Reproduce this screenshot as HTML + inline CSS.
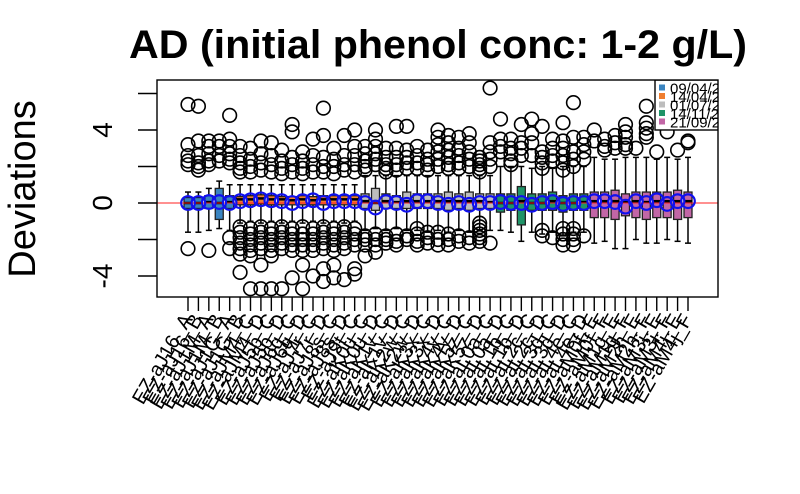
<!DOCTYPE html>
<html><head><meta charset="utf-8"><style>
html,body{margin:0;padding:0;background:#fff;}
svg{display:block;font-family:"Liberation Sans",Arial,sans-serif;}
</style></head><body>
<svg id="chart" width="800" height="494" viewBox="0 0 800 494">
<text x="438" y="58" text-anchor="middle" font-size="40" font-weight="bold" textLength="618" lengthAdjust="spacingAndGlyphs">AD (initial phenol conc: 1-2 g/L)</text>
<text transform="translate(35,189) rotate(-90)" text-anchor="middle" font-size="38">Deviations</text>
<g id="marks"></g>
</svg>
<script>
const groups = ["09/04/2","14/04/2","01/07/2","14/11/2","21/09/2"];
const groupColors = ["#3a84c0","#ef7d2f","#bdbdbd","#1f9468","#c266a6"];
const boxGroup = [0,0,0,0,0, 1,1,1,1,1,1,1,1,1,1,1,1, 2,2,2,2,2,2,2,2,2,2,2,2,2, 3,3,3,3,3,3,3,3,3, 4,4,4,4,4,4,4,4,4,4];
const medians = [0,0,0.05,0,0.05, 0.2,0.2,0.25,0.2,0.2,0.15,0.2,0.15,0.2,0.2,0.2,0.2, 0.1,0,0.1,0.05,0.1,0.1,0.1,0.1,0.1,0.1,0.1,0.1,0.05, 0,0,0.1,0,0,0.1,0,0,0.05, 0.1,0.1,0.1,0.05,0.1,0.05,0.1,0.1,0.1,0.1];
const q1s = [-0.3,-0.3,-0.3,-0.9,-0.3, -0.1,-0.1,-0.05,-0.1,-0.1,-0.1,-0.1,-0.1,-0.1,-0.1,-0.1,-0.1, -0.3,-0.4,-0.3,-0.3,-0.3,-0.3,-0.3,-0.3,-0.4,-0.3,-0.4,-0.3,-0.3, -0.5,-0.4,-1.2,-0.4,-0.4,-0.4,-0.5,-0.4,-0.4, -0.8,-0.8,-0.9,-0.7,-0.8,-0.9,-0.8,-0.8,-0.9,-0.8];
const q3s = [0.3,0.3,0.4,0.8,0.4, 0.35,0.4,0.45,0.4,0.35,0.35,0.4,0.35,0.4,0.4,0.4,0.4, 0.5,0.8,0.5,0.4,0.6,0.5,0.5,0.5,0.6,0.5,0.6,0.5,0.5, 0.5,0.5,0.9,0.5,0.5,0.6,0.4,0.5,0.5, 0.6,0.6,0.7,0.5,0.6,0.6,0.6,0.6,0.7,0.6];
const lows = [-1.6,-1.6,-1.5,-1.4,-1.5, -1.1,-1.0,-1.1,-1.0,-1.1,-1.0,-1.1,-1.0,-1.1,-1.0,-1.1,-1.0, -1.5,-1.4,-1.5,-1.4,-1.5,-1.5,-1.6,-1.5,-1.6,-1.5,-1.6,-1.5,-1.5, -1.5,-1.6,-2.1,-1.6,-1.7,-1.6,-1.8,-1.6,-1.6, -2.2,-2.1,-2.5,-2.5,-2.0,-2.2,-2.2,-2.0,-2.1,-2.2];
const highs = [0.6,0.6,0.8,1.2,1.0, 1.0,1.0,1.0,1.0,1.0,1.0,1.0,1.0,1.0,1.0,1.0,1.0, 1.5,1.5,1.5,1.5,1.5,1.5,1.5,1.5,1.5,1.5,1.5,1.5,1.5, 2.0,2.0,2.0,1.9,2.0,1.9,2.0,2.0,2.0, 2.5,2.4,2.4,2.5,2.5,2.5,2.4,2.5,2.4,2.5];
const means = [0,0,0.05,0.05,0, 0.1,0.15,0.2,0.15,0.1,0,0.1,0.15,0,0.1,0.1,0.1, 0,-0.25,0.05,0,-0.1,0.1,0.1,0,-0.1,0,-0.1,0,0, 0.05,0,0,-0.1,0,0.05,-0.05,0,0, 0.1,0.1,0.05,-0.2,0.1,0,0.15,-0.05,0.1,0.1];
const outliers = [
 [5.4,3.2,2.6,2.3,2.1,-2.5],
 [5.3,3.4,2.6,2.2,2.0,1.8],
 [3.4,3.1,2.7,2.3,2.1,-2.6],
 [3.4,3.1,2.6,2.3],
 [4.8,3.5,3.1,2.7,2.4,2.2,-1.9,-2.5],
 [3.1,2.6,2.2,1.9,1.7,-1.3,-1.6,-1.9,-2.2,-2.5,-2.8,-3.8],
 [3.0,2.4,2.0,1.7,-1.4,-1.7,-2.0,-2.3,-2.6,-2.9,-4.7],
 [3.4,2.7,2.2,1.8,-1.3,-1.6,-1.9,-2.2,-2.5,-3.4,-4.7],
 [3.3,2.6,2.1,1.7,-1.4,-1.7,-2.0,-2.3,-2.6,-2.9,-4.7],
 [2.9,2.3,1.9,1.6,-1.3,-1.6,-1.9,-2.2,-2.5,-4.7],
 [4.3,3.9,2.5,2.1,1.7,-1.4,-1.7,-2.0,-2.3,-2.6,-4.1],
 [2.8,2.3,1.9,1.6,-1.3,-1.7,-2.0,-2.3,-2.6,-3.4,-4.7],
 [3.5,2.6,2.1,1.7,-1.4,-1.7,-2.0,-2.3,-2.6,-4.0],
 [5.2,3.7,2.5,2.0,1.7,-1.3,-1.6,-1.9,-2.2,-2.5,-3.6,-4.3],
 [3.0,2.4,2.0,1.6,-1.4,-1.7,-2.0,-2.3,-2.6,-3.4,-4.1],
 [3.7,2.6,2.1,1.8,-1.3,-1.6,-1.9,-2.2,-2.5,-4.2],
 [4.0,3.1,2.6,2.1,1.7,-1.4,-1.7,-2.0,-2.3,-3.6,-3.9],
 [3.1,2.7,2.3,2.0,1.8,-1.8,-2.0,-2.3,-2.9],
 [4.0,3.5,3.1,2.7,2.4,2.1,-1.7,-2.0,-2.3,-2.7],
 [3.0,2.5,2.1,1.9,1.7,-1.8,-2.0,-2.2],
 [4.2,3.0,2.5,2.1,1.8,-1.7,-2.1,-2.3],
 [4.2,2.9,2.5,2.2,1.9,-1.8,-2.0],
 [3.1,2.6,2.2,1.9,-1.4,-1.7,-2.1,-2.3],
 [2.9,2.4,2.1,1.8,-1.6,-1.9,-2.2],
 [4.0,3.6,3.2,2.8,2.4,2.0,-1.6,-2.0,-2.3],
 [3.7,3.3,2.9,2.5,2.1,1.9,-1.7,-2.0,-2.3],
 [3.6,3.0,2.6,2.2,1.9,-1.8,-2.1],
 [3.8,3.3,2.8,2.4,2.0,-1.9,-2.2],
 [2.5,2.3,2.1,1.9,1.7,-1.1,-1.3,-1.5,-1.7,-1.9,-2.1],
 [6.3,3.3,2.8,2.4,2.0,-2.2],
 [4.6,3.5,3.1,2.8],
 [3.5,3.0,2.7,2.3,2.1],
 [4.3,3.3,3.0,2.6],
 [4.6,3.8,3.3,2.6],
 [4.2,2.8,2.5,2.2,1.9,-1.5,-1.8],
 [3.5,3.0,2.6,2.3,-1.9],
 [4.4,3.4,3.0,2.6,2.2,1.8,-1.4,-1.7,-2.0,-2.3],
 [5.5,3.6,2.8,2.4,2.0,-1.4,-1.7,-2.0,-2.3],
 [3.6,3.2,2.8,2.4,-1.8],
 [4.0,3.4],
 [3.5,3.1,2.9],
 [3.7,3.3,3.0],
 [4.3,3.9,3.6,3.2,3.0],
 [3.0],
 [5.3,4.4,4.1,3.8,3.6],
 [2.8],
 [3.9],
 [2.9],
 [3.4,3.3]
];
const boxNames = ["EZ-aJ16_A","EZ-aJ16_B","EZ-aJ1M_A","EZ-aJ1M_B","EZ-aJ1G_A","EZ-aJ1G_B","EZ-aJM4_C","EZ-aJM4_D","EZ-aJ5p_C","EZ-aJ5p_D","EZ-aJ6q_C","EZ-aJ6q_D","EZ-aJ7r_C","EZ-aJ7r_D","EZ-aJ8s_C","EZ-aJ8s_D","EZ-aJ9t_C","EZ-aK0u_C","EZ-aK0u_D","EZ-aK1v_C","EZ-aK1v_D","EZ-aK2w_C","EZ-aK2w_D","EZ-aK3x_C","EZ-aK3x_D","EZ-aK4y_C","EZ-aK4y_D","EZ-aK5z_C","EZ-aK5z_D","EZ-aL0a_C","EZ-aL0a_D","EZ-aL1b_C","EZ-aL1b_D","EZ-aL2c_C","EZ-aL2c_D","EZ-aL3d_C","EZ-aL3d_D","EZ-aL4e_C","EZ-aL4e_D","EZ-aM0f_E","EZ-aM0f_F","EZ-aM1g_E","EZ-aM1g_F","EZ-aM2h_E","EZ-aM2h_F","EZ-aM3i_E","EZ-aM3i_F","EZ-aM4j_E","EZ-aM4j_F"];
const yTicks = [-4,-2,0,2,4,6];
const yTickLabels = ["-4","","0","","4",""];

const NS="http://www.w3.org/2000/svg";
const L=157,R=718,T=80,B=297;
function ys(v){return 203 - v*18.25;}
function xs(i){return 188 + i*(500/48);}
const g=document.getElementById('marks');
function mk(tag,attrs,parent){const e=document.createElementNS(NS,tag);for(const k in attrs)e.setAttribute(k,attrs[k]);(parent||g).appendChild(e);return e;}

const defs=mk('defs',{});
const cp=mk('clipPath',{id:'plotclip'},defs);
mk('rect',{x:L,y:T,width:R-L,height:B-T},cp);

// y axis
const yax=mk('g',{});


yTicks.forEach((t,k)=>{
  const ln=mk('line',{x1:L,x2:L-19,y1:ys(t),y2:ys(t),stroke:'#000','stroke-width':1.4},yax);
  
  
  if(yTickLabels[k]){
    const tx=mk('text',{transform:`translate(112,${ys(t)}) rotate(-90)`,'text-anchor':'middle','font-size':28},yax);
    
    
    tx.textContent=yTickLabels[k];
  }
});

const plot=mk('g',{'clip-path':'url(#plotclip)'});


const hw=4;
medians.forEach((m,i)=>{
  const x=xs(i);
  const bg=mk('g',{},plot);
  
  
  mk('line',{x1:x,x2:x,y1:ys(highs[i]),y2:ys(q3s[i]),stroke:'#000','stroke-width':1.5},bg);
  mk('line',{x1:x,x2:x,y1:ys(q1s[i]),y2:ys(lows[i]),stroke:'#000','stroke-width':1.5},bg);
  mk('line',{x1:x-3,x2:x+3,y1:ys(highs[i]),y2:ys(highs[i]),stroke:'#000','stroke-width':1.5},bg);
  mk('line',{x1:x-3,x2:x+3,y1:ys(lows[i]),y2:ys(lows[i]),stroke:'#000','stroke-width':1.5},bg);
  mk('rect',{x:x-hw,y:ys(q3s[i]),width:2*hw,height:ys(q1s[i])-ys(q3s[i]),fill:groupColors[boxGroup[i]],stroke:'#222','stroke-width':1.3},bg);
  mk('line',{x1:x-hw,x2:x+hw,y1:ys(m),y2:ys(m),stroke:'#000','stroke-width':2.5},bg);
});
const zl=mk('line',{x1:L,x2:R,y1:ys(0),y2:ys(0),stroke:'#ff2020','stroke-width':1},plot);


outliers.forEach((arr,i)=>{
  arr.forEach(v=>{
    const c=mk('circle',{cx:xs(i),cy:ys(v),r:6.8,fill:'none',stroke:'#000','stroke-width':1.6},plot);
    
    
  });
});
means.forEach((v,i)=>{
  const c=mk('circle',{cx:xs(i),cy:ys(v),r:6.8,fill:'none',stroke:'#1010ee','stroke-width':2.2},plot);
  
  
});

// legend
const lg=mk('g',{'clip-path':'url(#plotclip)'});


mk('rect',{x:655,y:80,width:70,height:50,fill:'#fff',stroke:'#000','stroke-width':1.4},lg);
groups.forEach((name,k)=>{
  const yy=88+k*8.5;
  const e=mk('g',{},lg);
  
  
  mk('rect',{x:659,y:yy-3.5,width:6,height:6,fill:groupColors[k]},e);
  const t=mk('text',{x:670,y:yy+5.5,'font-size':15},e);
  t.textContent=name;
});

const fr=mk('rect',{x:L,y:T,width:R-L,height:B-T,fill:'none',stroke:'#000','stroke-width':1.4});



// x axis
const xax=mk('g',{});


boxNames.forEach((n,i)=>{
  const x=xs(i);
  const tk=mk('line',{x1:x,x2:x,y1:B,y2:B+14,stroke:'#000','stroke-width':1.4},xax);
  
  
  const t=mk('text',{transform:`translate(${x+5},${B+22}) rotate(-60)`,'text-anchor':'end','font-size':20},xax);
  
  
  t.textContent=n;
});
</script>
</body></html>
